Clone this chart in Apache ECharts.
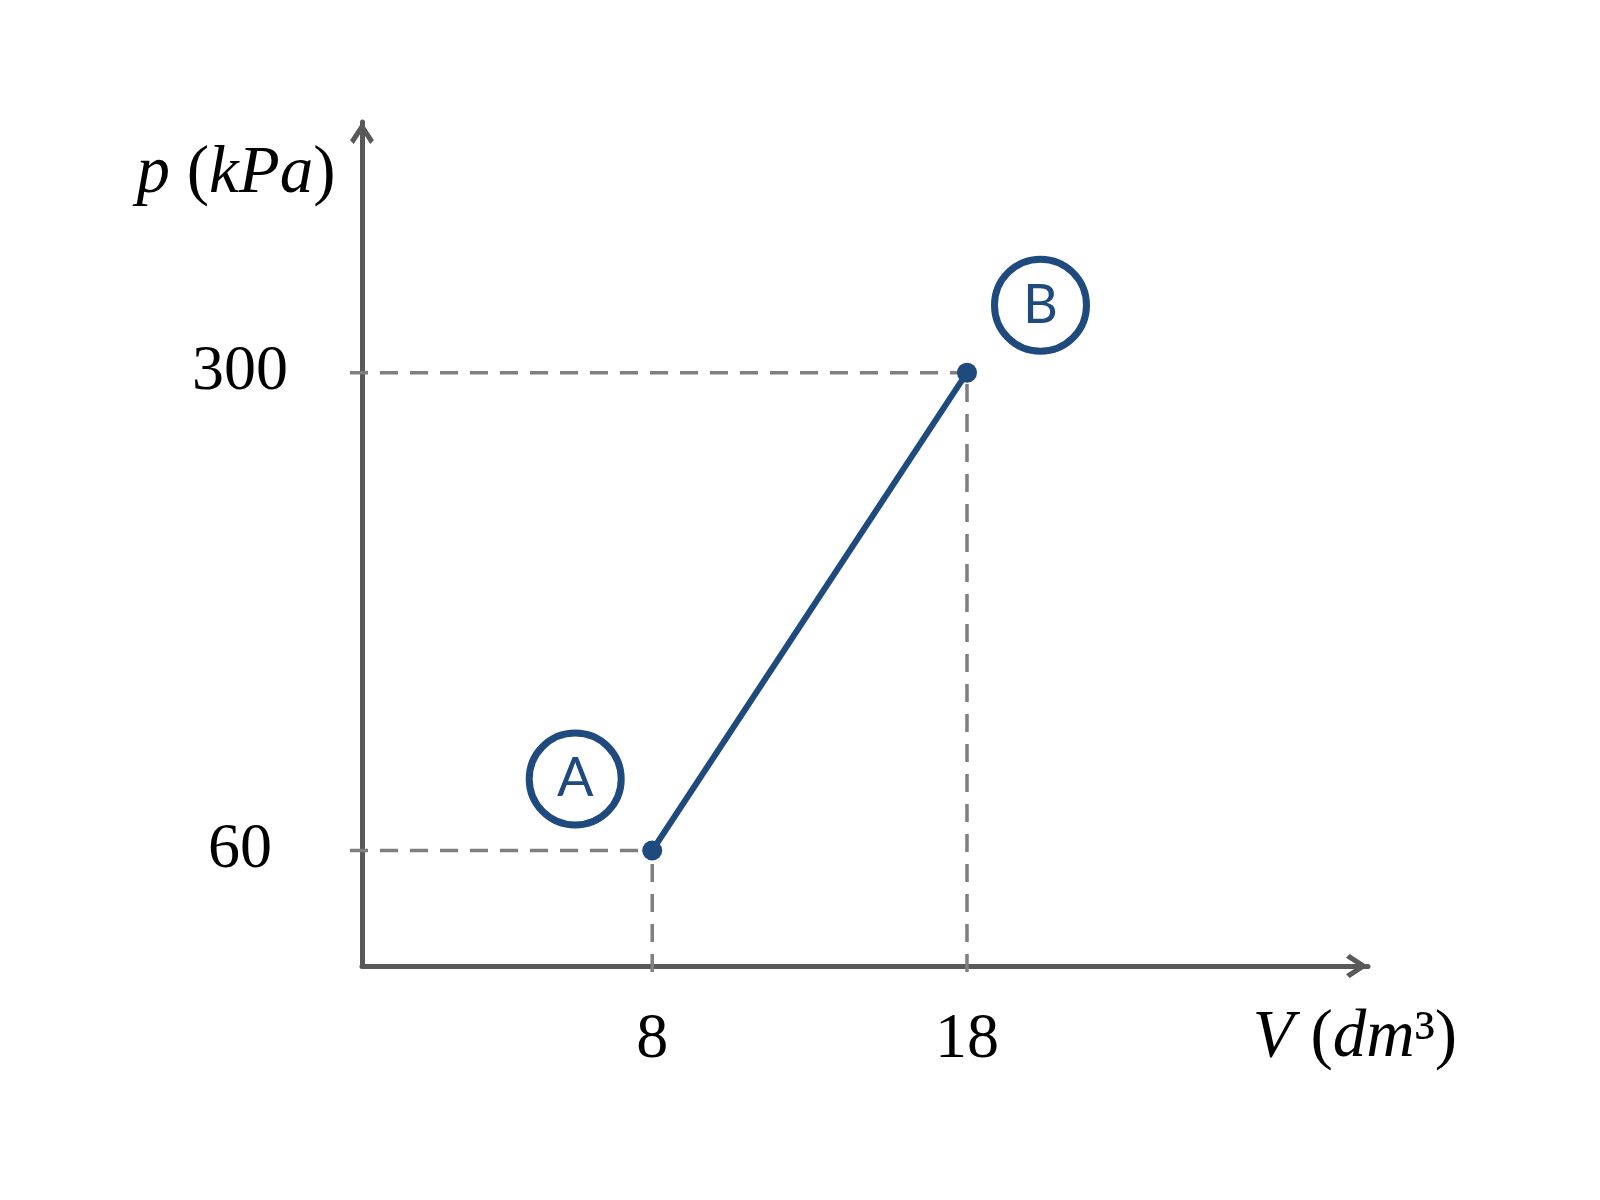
<!DOCTYPE html>
<html>
<head>
<meta charset="utf-8">
<style>
html,body{margin:0;padding:0;background:#fff;}
#chart{width:1600px;height:1200px;}
</style>
<script src="https://cdn.jsdelivr.net/npm/echarts@6/dist/echarts.min.js"></script>
</head>
<body>
<div id="chart"></div>
<script>
// ---- data ----
const pointNames = ['A', 'B'];
const volumes = [8, 18];          // V (dm^3)
const pressures = [60, 300];      // p (kPa)
const xTickLabels = [8, 18];
const yTickLabels = [60, 300];

// ---- styles ----
const BLUE = '#1f4a7e';
const AXIS = '#595959';
const GUIDE = '#7f7f7f';
const SERIF = '"Liberation Serif", "DejaVu Serif", serif';
const ARROW = 'path://M13,0 L26,20 L22,24 L13,10 L4,24 L0,20 Z';

const pts = volumes.map((v, i) => [v, pressures[i]]);
const labelOffsets = [[-77, -71.5], [73.5, -67.5]];

const chart = echarts.init(document.getElementById('chart'), null, {renderer: 'canvas'});

const titleRich = {
  i: {fontFamily: SERIF, fontStyle: 'italic', fontSize: 67, color: '#000'},
  n: {fontFamily: SERIF, fontStyle: 'normal', fontSize: 67, color: '#000'}
};

chart.setOption({
  animation: false,
  backgroundColor: '#fff',
  grid: {left: 362, right: 232, top: 122, bottom: 234, containLabel: false},
  xAxis: {
    type: 'value',
    min: -1.22, max: 30.74,
    name: '{i|V}{n| (}{i|dm}{n|³)}',
    nameLocation: 'end',
    nameGap: -13,
    nameTextStyle: {align: 'center', verticalAlign: 'middle', padding: [144, 0, 0, 0], rich: titleRich},
    axisLine: {
      show: true, onZero: false,
      symbol: ['none', ARROW], symbolSize: [24, 22], symbolOffset: [0, -11],
      lineStyle: {color: AXIS, width: 5}
    },
    axisTick: {show: false},
    splitLine: {show: false},
    axisLabel: {
      customValues: xTickLabels,
      margin: 42,
      fontFamily: SERIF, fontSize: 64, color: '#000'
    }
  },
  yAxis: {
    type: 'value',
    min: 2, max: 425.9,
    name: '{i|p}{n| (}{i|kPa}{n|)}',
    nameLocation: 'end',
    nameGap: -52,
    nameTextStyle: {align: 'center', verticalAlign: 'middle', padding: [0, 252, 0, 0], rich: titleRich},
    axisLine: {
      show: true, onZero: false,
      symbol: ['none', ARROW], symbolSize: [24, 22], symbolOffset: [0, -11],
      lineStyle: {color: AXIS, width: 5}
    },
    axisTick: {show: false},
    splitLine: {show: false},
    axisLabel: {
      customValues: yTickLabels,
      margin: 122, align: 'center',
      fontFamily: SERIF, fontSize: 64, color: '#000'
    }
  },
  series: [
    {
      type: 'custom',
      z: 1,
      clip: false,
      silent: true,
      data: pts,
      renderItem: function (params, api) {
        const p = api.coord([api.value(0), api.value(1)]);
        const cs = params.coordSys;
        const left = cs.x - 12;
        const bottom = cs.y + cs.height + 6;
        const style = {stroke: GUIDE, lineWidth: 3.5, lineDash: [18, 12], fill: null};
        return {
          type: 'group',
          children: [
            {type: 'line', shape: {x1: left, y1: p[1], x2: p[0], y2: p[1]}, style: style},
            {type: 'line', shape: {x1: p[0], y1: bottom, x2: p[0], y2: p[1]}, style: style}
          ]
        };
      }
    },
    {
      type: 'line',
      z: 3,
      data: pts.map((p, i) => ({name: pointNames[i], value: p})),
      symbol: 'circle',
      symbolSize: 20,
      itemStyle: {color: BLUE},
      lineStyle: {color: BLUE, width: 6},
      label: {
        show: true,
        position: 'inside',
        formatter: '{b}',
        fontFamily: 'Lato, "Open Sans", sans-serif',
        fontSize: 54,
        color: BLUE,
        width: 92, height: 92, lineHeight: 92,
        align: 'center', verticalAlign: 'middle',
        borderColor: BLUE, borderWidth: 3.5, borderRadius: 50,
        backgroundColor: 'rgba(255,255,255,0)'
      },
      labelLayout: function (params) {
        const o = labelOffsets[params.dataIndex] || [0, 0];
        return {dx: o[0], dy: o[1], hideOverlap: false};
      }
    }
  ]
});
</script>
</body>
</html>
